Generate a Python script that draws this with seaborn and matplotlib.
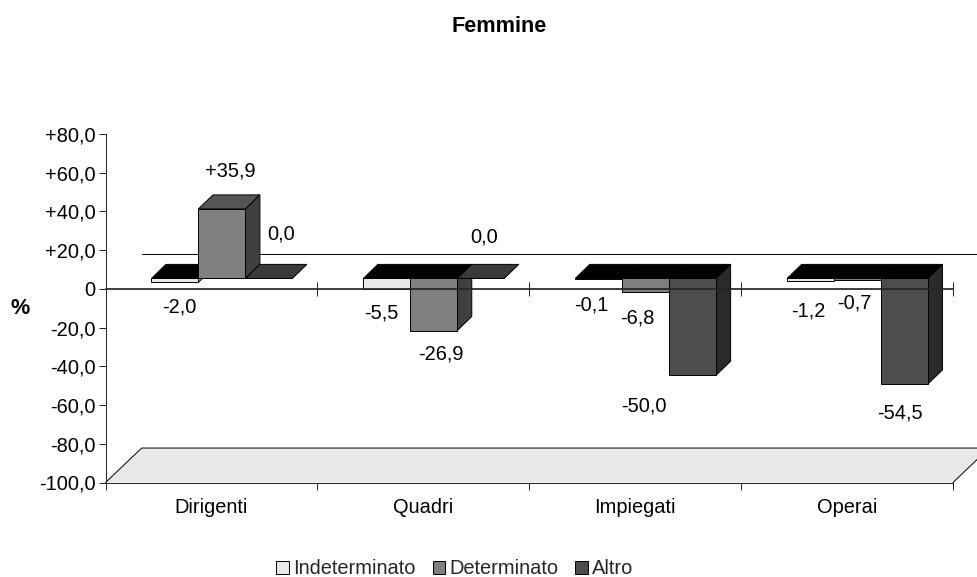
import matplotlib
matplotlib.use("Agg")
import matplotlib.pyplot as plt
import pandas as pd
import seaborn as sns
from matplotlib.patches import Polygon

# Percent changes by job category and contract type
categorie = ["Dirigenti", "Quadri", "Impiegati", "Operai"]
contratti = ["Indeterminato", "Determinato", "Altro"]
indeterminato = [-2.0, -5.5, -0.1, -1.2]
determinato = [35.9, -26.9, -6.8, -0.7]
altro = [0.0, 0.0, -50.0, -54.5]
y_ticks = [80, 60, 40, 20, 0, -20, -40, -60, -80, -100]

# Face colours per series: front, side, top for a positive bar
FRONT = {"Indeterminato": "#e8e8e8", "Determinato": "#808080", "Altro": "#4d4d4d"}
SIDE = {"Indeterminato": "#a8a8a8", "Determinato": "#404040", "Altro": "#2a2a2a"}
TOP_POS = {"Indeterminato": "#c0c0c0", "Determinato": "#555555", "Altro": "#3a3a3a"}

# Oblique projection, expressed in axis units (category steps, percent points)
FLOOR_DX, FLOOR_DY = 0.1708, 17.8
BAR_DX, BAR_DY = 0.0684, 7.25
BASE_DX, BASE_DY = 0.0495, 5.4

# Label offsets from each bar's end, in pixels, per category
lab_off = {
    "Indeterminato": [(4.5, -24.6), (-5.5, -24), (-7.5, -26.3), (-2.5, -30)],
    "Determinato": [(8, 38), (7.5, -23), (-8.5, -26.3), (-3.5, -23)],
    "Altro": [(12, 44.5), (3.5, 41.5), (-48.5, -30.7), (-4.5, -29)],
}

sns.set_theme(style="white")
plt.rcParams["font.family"] = ["Liberation Sans", "DejaVu Sans"]
FS = 14.4
FS_BOLD = 15.6
EDGE = 0.7

df = pd.DataFrame({
    "categoria": categorie * 3,
    "contratto": sum([[c] * 4 for c in contratti], []),
    "valore": indeterminato + determinato + altro,
})

fig = plt.figure(figsize=(9.77, 5.77), dpi=100)
W, H = 977, 577
ax = fig.add_axes([105.5 / W, 1 - 482.5 / H, (953 - 105.5) / W, (482.5 - 134) / H])

sns.barplot(
    data=df, x="categoria", y="valore", hue="contratto",
    order=categorie, hue_order=contratti, palette=FRONT,
    width=0.665, saturation=1, edgecolor="black", linewidth=EDGE,
    errorbar=None, ax=ax,
)
ax.set_xlim(-0.5, 3.5)
ax.set_ylim(-100, 80)

# Floor and back-wall line of the 3D frame
x0, x1 = ax.get_xlim()
floor_back = -100 + FLOOR_DY
ax.add_patch(Polygon(
    [(x0, -100), (x0 + FLOOR_DX, floor_back), (x1 + FLOOR_DX, floor_back), (x1, -100)],
    closed=True, facecolor="#e8e8e8", edgecolor="none", zorder=0.5, clip_on=False,
))
ax.plot(
    [x0, x0 + FLOOR_DX, x1 + FLOOR_DX, x1], [-100, floor_back, floor_back, -100],
    color="black", lw=EDGE, zorder=0.55, clip_on=False,
)
ax.plot([x0 + FLOOR_DX, x1 + FLOOR_DX], [FLOOR_DY, FLOOR_DY], color="black", lw=EDGE, zorder=0.6, clip_on=False)

# Extrude each bar: shift the front face, then add its top and side faces
bars = []
for cont, cont_bars in zip(contratti, ax.containers):
    for i, patch in enumerate(cont_bars):
        bars.append((patch, cont, i))
bars.sort(key=lambda b: b[0].get_x())

for n, (patch, cont, i) in enumerate(bars):
    z = 1 + n * 0.05
    value = patch.get_height()
    patch.set_x(patch.get_x() + BASE_DX)
    patch.set_y(BASE_DY)
    patch.set_zorder(z + 0.02)
    left, right = patch.get_x(), patch.get_x() + patch.get_width()
    end = BASE_DY + value
    upper = max(BASE_DY, end)
    top_colour = "black" if value < 0 else TOP_POS[cont]
    ax.add_patch(Polygon(
        [(left, upper), (left + BAR_DX, upper + BAR_DY), (right + BAR_DX, upper + BAR_DY), (right, upper)],
        closed=True, facecolor=top_colour, edgecolor="black", linewidth=EDGE, zorder=z,
    ))
    if value != 0:
        ax.add_patch(Polygon(
            [(right, BASE_DY), (right + BAR_DX, BASE_DY + BAR_DY), (right + BAR_DX, end + BAR_DY), (right, end)],
            closed=True, facecolor=SIDE[cont], edgecolor="black", linewidth=EDGE, zorder=z + 0.01,
        ))
    if value == 0:
        text = "0,0"
    else:
        text = f"{value:+.1f}".replace(".", ",")
    ax.annotate(
        text, xy=((left + right) / 2, end), xytext=lab_off[cont][i],
        textcoords="offset pixels", ha="center", va="center",
        fontsize=FS, color="black", zorder=6,
    )

# Axes: left spine, floor-level axis and the zero-level axis
boundaries = [-0.5, 0.5, 1.5, 2.5, 3.5]
for name in ("top", "right"):
    ax.spines[name].set_visible(False)
for name in ("left", "bottom"):
    ax.spines[name].set_color("#222222")
    ax.spines[name].set_linewidth(EDGE)
ax.set_yticks(y_ticks)
ax.set_yticklabels([
    "0" if v == 0 else f"{v:+.1f}".replace(".", ",") for v in y_ticks
], fontsize=FS, color="black")
ax.tick_params(axis="y", length=5, width=EDGE, color="#222222", left=True, pad=2)
ax.set_xticks(range(4))
ax.set_xticklabels(categorie, fontsize=FS, color="black")
ax.set_xticks(boundaries, minor=True)
ax.tick_params(axis="x", which="major", length=0, pad=11)
ax.tick_params(axis="x", which="minor", length=5, width=EDGE, color="#222222", bottom=True)
ax.set_xlabel("")
ax.set_ylabel("")

zero_axis = ax.secondary_xaxis(100 / 180)
zero_axis.set_zorder(5)
zero_axis.spines["bottom"].set_linewidth(EDGE)
zero_axis.spines["bottom"].set_color("#222222")
zero_axis.set_xticks(boundaries)
zero_axis.set_xticklabels([])
zero_axis.tick_params(axis="x", length=5, width=EDGE, color="#222222", bottom=True)

# Title, unit and legend
fig.text(499.5 / W, 1 - 26 / H, "Femmine", ha="center", va="center", fontsize=FS_BOLD, fontweight="bold", color="black")
fig.text(20 / W, 1 - 309 / H, "%", ha="center", va="center", fontsize=FS_BOLD, fontweight="bold", color="black")

sns.move_legend(
    ax, "center", bbox_to_anchor=(455 / W, 1 - 569 / H), bbox_transform=fig.transFigure,
    ncol=3, frameon=False, title=None, fontsize=FS,
    handlelength=0.62, handleheight=0.62, handletextpad=0.22, columnspacing=0.85,
    borderpad=0,
)
for handle in ax.get_legend().get_patches():
    handle.set_edgecolor("black")
    handle.set_linewidth(EDGE)

fig.savefig("out.png", dpi=100, facecolor="white")
